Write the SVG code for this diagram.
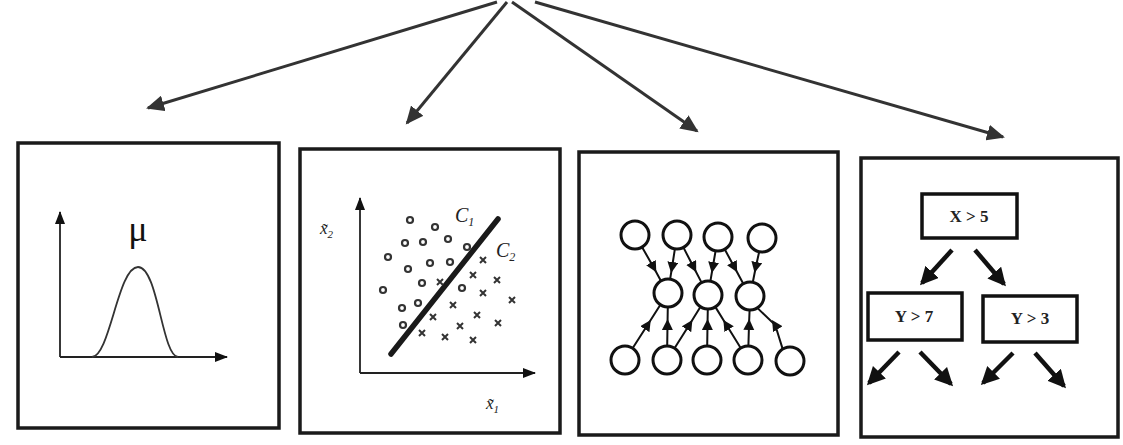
<svg xmlns="http://www.w3.org/2000/svg" width="1123" height="445" viewBox="0 0 1123 445">
<style>
.panel{fill:#fff;stroke:#1a1a1a;stroke-width:3.5}
.main{stroke:#333;stroke-width:3;fill:none}
.axis{stroke:#222;stroke-width:1.8;fill:none}
.dot{fill:none;stroke:#333;stroke-width:2.2}
.cross{stroke:#333;stroke-width:2}
.neuron{fill:#fff;stroke:#111;stroke-width:3}
.edge{stroke:#111;stroke-width:2;fill:none}
.tbox{fill:#fff;stroke:#111;stroke-width:3.5}
.tarrow{stroke:#111;stroke-width:4.5;fill:none}
.ttext{font-family:"Liberation Serif",serif;font-weight:bold;font-size:17px;fill:#222;text-anchor:middle}
.lab{font-family:"Liberation Serif",serif;font-style:italic;fill:#222}
</style>
<defs>
<marker id="bigArrow" markerUnits="userSpaceOnUse" markerWidth="20" markerHeight="16" refX="16" refY="8" orient="auto"><path d="M0,0 L18,8 L0,16 z" fill="#333"/></marker>
<marker id="axArrow" markerUnits="userSpaceOnUse" markerWidth="14" markerHeight="12" refX="12" refY="5" orient="auto"><path d="M0,0 L13,5 L0,10 z" fill="#111"/></marker>
<marker id="treeArrow" markerUnits="userSpaceOnUse" markerWidth="20" markerHeight="20" refX="15" refY="9" orient="auto"><path d="M0,0 L18,9 L0,18 z" fill="#111"/></marker>
<marker id="nnArrow" markerUnits="userSpaceOnUse" markerWidth="12" markerHeight="12" refX="5" refY="5.5" orient="auto"><path d="M0,0 L11,5.5 L0,11 z" fill="#111"/></marker>
</defs>
<rect width="1123" height="445" fill="#fff"/>

<g id="connectors">
<line class="main" x1="497" y1="2" x2="148" y2="108" marker-end="url(#bigArrow)"/>
<line class="main" x1="507" y1="2" x2="407" y2="123" marker-end="url(#bigArrow)"/>
<line class="main" x1="512" y1="2" x2="697" y2="131" marker-end="url(#bigArrow)"/>
<line class="main" x1="535" y1="2" x2="1003" y2="137" marker-end="url(#bigArrow)"/>
</g>

<g id="panel-gaussian">
<rect class="panel" x="18" y="143" width="261" height="285"/>
<line class="axis" x1="60" y1="357" x2="60" y2="212" marker-end="url(#axArrow)"/>
<line class="axis" x1="60" y1="357" x2="227" y2="357" marker-end="url(#axArrow)"/>
<path d="M92,357 C110,356 118,267 138,267 C158,267 162,356 178,357" fill="none" stroke="#333" stroke-width="1.8"/>
<text x="138" y="241" font-family="Liberation Serif, serif" font-size="36" fill="#111" text-anchor="middle">μ</text>
</g>

<g id="panel-classifier">
<rect class="panel" x="300" y="149" width="260" height="284"/>
<line class="axis" x1="360" y1="373" x2="360" y2="198" marker-end="url(#axArrow)"/>
<line class="axis" x1="360" y1="373" x2="535" y2="373" marker-end="url(#axArrow)"/>
<text class="lab" x="320" y="234" font-size="17">x̃<tspan font-size="11" dy="4">2</tspan></text>
<text class="lab" x="486" y="409" font-size="17">x̃<tspan font-size="11" dy="4">1</tspan></text>
<line x1="391" y1="354" x2="498" y2="219" stroke="#1a1a1a" stroke-width="5.5" stroke-linecap="round"/>
<text class="lab" x="455" y="222" font-size="20">C<tspan font-size="12" dy="4">1</tspan></text>
<text class="lab" x="496" y="257" font-size="20">C<tspan font-size="12" dy="4">2</tspan></text>
<g>
<circle class="dot" cx="410" cy="220" r="3"/><circle class="dot" cx="435" cy="227" r="3"/>
<circle class="dot" cx="405" cy="243" r="3"/><circle class="dot" cx="423" cy="242" r="3"/>
<circle class="dot" cx="448" cy="239" r="3"/><circle class="dot" cx="467" cy="247" r="3"/>
<circle class="dot" cx="388" cy="257" r="3"/><circle class="dot" cx="408" cy="269" r="3"/>
<circle class="dot" cx="430" cy="263" r="3"/><circle class="dot" cx="450" cy="262" r="3"/>
<circle class="dot" cx="422" cy="283" r="3"/><circle class="dot" cx="383" cy="290" r="3"/>
<circle class="dot" cx="402" cy="308" r="3"/><circle class="dot" cx="418" cy="303" r="3"/>
<circle class="dot" cx="403" cy="325" r="3"/><circle class="dot" cx="462" cy="288" r="3"/>
</g>
<path class="cross" d="M480,257l6,6m0,-6l-6,6 M470,272l6,6m0,-6l-6,6 M494,277l6,6m0,-6l-6,6 M480,290l6,6m0,-6l-6,6 M509,297l6,6m0,-6l-6,6 M450,302l6,6m0,-6l-6,6 M474,312l6,6m0,-6l-6,6 M495,320l6,6m0,-6l-6,6 M430,314l6,6m0,-6l-6,6 M457,323l6,6m0,-6l-6,6 M419,330l6,6m0,-6l-6,6 M442,334l6,6m0,-6l-6,6 M470,337l6,6m0,-6l-6,6 M437,279l6,6m0,-6l-6,6"/>
</g>

<g id="panel-network">
<rect class="panel" x="579" y="152" width="259" height="283"/>
<g id="nn-edges">
<path class="edge" d="M642,247 L653.4,267 L661,281" marker-mid="url(#nnArrow)"/>
<path class="edge" d="M674.9,248.8 L672.1,267 L670.1,279.2" marker-mid="url(#nnArrow)"/>
<path class="edge" d="M683.4,247.4 L693.5,267 L701.6,282.6" marker-mid="url(#nnArrow)"/>
<path class="edge" d="M715.6,250.8 L712.8,267 L710.4,281.2" marker-mid="url(#nnArrow)"/>
<path class="edge" d="M724.7,249.3 L734.3,267 L743.3,283.7" marker-mid="url(#nnArrow)"/>
<path class="edge" d="M759.2,251.7 L755.8,267 L752.8,282.3" marker-mid="url(#nnArrow)"/>
<path class="edge" d="M632.6,348.2 L647.5,325 L660.4,304.8" marker-mid="url(#nnArrow)"/>
<path class="edge" d="M667.2,346 L667.5,325 L667.8,307" marker-mid="url(#nnArrow)"/>
<path class="edge" d="M674.5,348.2 L689.2,325 L700.5,306.8" marker-mid="url(#nnArrow)"/>
<path class="edge" d="M707.2,346 L707.5,325 L707.8,309" marker-mid="url(#nnArrow)"/>
<path class="edge" d="M740.7,348.1 L726.5,325 L715.3,306.9" marker-mid="url(#nnArrow)"/>
<path class="edge" d="M748.4,346 L749,325 L749.6,310" marker-mid="url(#nnArrow)"/>
<path class="edge" d="M782.7,349.1 L775.2,325 L757.3,307.9" marker-mid="url(#nnArrow)"/>
</g>
<g id="nn-nodes">
<circle class="neuron" cx="635" cy="235" r="14"/><circle class="neuron" cx="677" cy="235" r="14"/>
<circle class="neuron" cx="718" cy="237" r="14"/><circle class="neuron" cx="762" cy="238" r="14"/>
<circle class="neuron" cx="668" cy="293" r="14"/><circle class="neuron" cx="708" cy="295" r="14"/>
<circle class="neuron" cx="750" cy="296" r="14"/>
<circle class="neuron" cx="625" cy="360" r="14"/><circle class="neuron" cx="667" cy="360" r="14"/>
<circle class="neuron" cx="707" cy="360" r="14"/><circle class="neuron" cx="748" cy="360" r="14"/>
<circle class="neuron" cx="790" cy="361" r="14"/>
</g>
</g>

<g id="panel-tree">
<rect class="panel" x="861" y="158" width="257" height="279"/>
<g id="tree-x5"><rect class="tbox" x="922" y="194" width="95" height="44"/><text class="ttext" x="969" y="222">X &gt; 5</text></g>
<g id="tree-y7"><rect class="tbox" x="868" y="293" width="94" height="47"/><text class="ttext" x="914" y="322">Y &gt; 7</text></g>
<g id="tree-y3"><rect class="tbox" x="983" y="296" width="94" height="46"/><text class="ttext" x="1030" y="324">Y &gt; 3</text></g>
<g id="tree-connectors">
<line class="tarrow" x1="952" y1="250" x2="922" y2="283" marker-end="url(#treeArrow)"/>
<line class="tarrow" x1="975" y1="250" x2="1004" y2="284" marker-end="url(#treeArrow)"/>
<line class="tarrow" x1="899" y1="352" x2="869" y2="383" marker-end="url(#treeArrow)"/>
<line class="tarrow" x1="920" y1="352" x2="951" y2="384" marker-end="url(#treeArrow)"/>
<line class="tarrow" x1="1013" y1="353" x2="983" y2="383" marker-end="url(#treeArrow)"/>
<line class="tarrow" x1="1035" y1="353" x2="1064" y2="386" marker-end="url(#treeArrow)"/>
</g>
</g>
</svg>
